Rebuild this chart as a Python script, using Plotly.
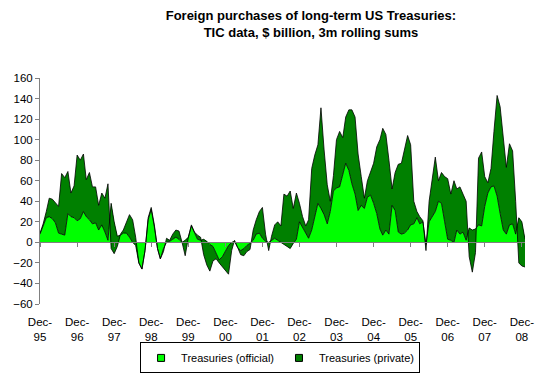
import pandas as pd
import plotly.graph_objects as go

# Monthly 3m rolling sums, $ billion, Dec-95 .. Jan-09
official = [8, 17, 24, 25, 23, 19, 9, 8, 7, 28, 25, 24, 21, 23, 30, 25, 22, 18, 19, 12,
            17, 10, 2, 38, 20, 6, 7, 9, 9, 5, 0, -3, -20, -26, -8, 22, 32, 15, -6, -16,
            -6, 0, 1, 3, 5, 3, 0, 2, 5, 16, 9, 3, 2, 3, 1, -2, -4, -10, -17, -14,
            -8, -3, 0, 1, -5, -8, -6, -3, -1, 2, 8, 9, 4, 1, 0, 2, 4, 2, 0, -2,
            -4, -6, -1, 3, 20, 14, 8, 4, 12, 25, 38, 33, 27, 18, 30, 50, 53, 54, 65, 77,
            70, 57, 47, 31, 36, 33, 44, 46, 38, 28, 13, 7, 12, 8, 36, 31, 10, 8, 9, 12,
            17, 18, 24, 18, 20, -2, 20, 25, 30, 40, 38, 20, 3, 2, 0, 12, 8, 10, 2, 14,
            12, 13, 17, 16, 35, 48, 54, 55, 45, 28, 12, 8, 17, 18, 8, 24, 20, 3]
private = [1, 1, 6, 18, 19, 20, 26, 59, 56, 41, 23, 31, 64, 57, 56, 36, 46, 36, 35, 24,
           31, 33, 55, -44, -31, -10, 1, 3, 11, 22, 22, 8, 0, 0, 0, 2, 2, 2, 0, 0,
           -3, 4, 1, 5, 7, 8, 0, -15, -1, 1, 1, 4, 3, -15, -23, -26, -14, -6, -3, -10,
           -20, -28, -8, 1, 0, -4, -7, -6, -6, 10, 14, 21, 30, 7, -8, 4, 13, 18, 16, 49,
           49, 56, 34, 45, 18, 11, 8, 18, 60, 60, 57, 98, 63, 38, 10, 15, 47, 54, 37, 45,
           59, 72, 75, 55, 28, 10, 16, 22, 39, 65, 87, 104, 93, 72, 16, 37, 66, 69, 81, 92,
           78, 22, 6, 7, 1, -6, 20, 37, 53, 20, 30, 44, 59, 45, 60, 40, 46, 37, 38, -28,
           -41, -23, 65, 72, 29, 10, 18, 53, 98, 104, 88, 65, 79, 71, 32, -44, -43, -27]

months = pd.date_range("1995-12-01", periods=len(official), freq="MS")
tick_years = list(range(1995, 2009))
tick_dates = [pd.Timestamp(f"{y}-12-01") for y in tick_years]
tick_text = [f"Dec-<br>{str(y)[2:]}" for y in tick_years]

LIGHT = "#00FF00"
DARK = "#008000"
FONT = "Liberation Sans, Arial, sans-serif"

fig = go.Figure()
fig.add_trace(go.Scatter(x=months, y=official, stackgroup="one", mode="lines",
                         line=dict(color="black", width=0.8), fillcolor=LIGHT,
                         name="Treasuries (official)", showlegend=False))
fig.add_trace(go.Scatter(x=months, y=private, stackgroup="one", mode="lines",
                         line=dict(color="black", width=0.8), fillcolor=DARK,
                         name="Treasuries (private)", showlegend=False))
# legend keys
for nm, col in [("Treasuries (official)", LIGHT), ("Treasuries (private)", DARK)]:
    fig.add_trace(go.Scatter(x=[None], y=[None], mode="markers", name=nm,
                             marker=dict(symbol="square", size=7, color=col,
                                         line=dict(color="black", width=1))))

ymin, ymax = -60, 160
fig.update_layout(
    width=539, height=366,
    margin=dict(l=32, r=22, t=70, b=70, autoexpand=False),
    paper_bgcolor="white", plot_bgcolor="white",
    font=dict(family=FONT, size=11.5, color="black"),
    title=dict(text="<b>Foreign purchases of long-term US Treasuries:<br>TIC data, $ billion, 3m rolling sums</b>",
               x=0.562, xanchor="center", y=0.967, yanchor="top",
               font=dict(family=FONT, size=13, color="black")),
    showlegend=True,
    legend=dict(orientation="h", x=0.495, xanchor="center", y=-0.17, yanchor="top",
                traceorder="normal",
                bordercolor="black", borderwidth=1, bgcolor="white",
                font=dict(family=FONT, size=11), itemwidth=30, tracegroupgap=0),
    xaxis=dict(range=[months[0], months[-1]], tickvals=tick_dates, ticktext=tick_text,
               showgrid=False, zeroline=False, showline=False, ticks="outside",
               ticklen=7, tickcolor="rgba(0,0,0,0)", tickangle=0, automargin=False),
    xaxis2=dict(range=[months[0], months[-1]], overlaying="x", anchor="free",
                position=(0 - ymin) / (ymax - ymin), tickvals=tick_dates,
                showticklabels=False, showgrid=False, zeroline=False, showline=True,
                linecolor="#808080", linewidth=1, ticks="outside", ticklen=4,
                tickcolor="#808080", layer="above traces", automargin=False),
    yaxis=dict(range=[ymin, ymax], dtick=20, showgrid=False, zeroline=False,
               showline=True, linecolor="#808080", linewidth=1, ticks="outside",
               ticklen=4, tickcolor="#808080", automargin=False),
)
# invisible trace to attach xaxis2
fig.add_trace(go.Scatter(x=[months[0]], y=[0], xaxis="x2", mode="markers",
                         marker=dict(opacity=0), showlegend=False, hoverinfo="skip"))

fig.write_html("out.html")
